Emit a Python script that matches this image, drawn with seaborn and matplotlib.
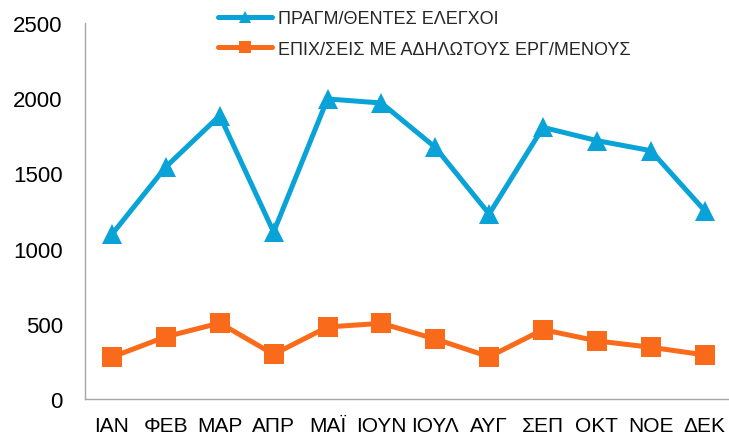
import matplotlib
matplotlib.use("Agg")
import matplotlib.pyplot as plt
import seaborn as sns
import pandas as pd
import numpy as np

months = ["ΙΑΝ", "ΦΕΒ", "ΜΑΡ", "ΑΠΡ", "ΜΑΪ", "ΙΟΥΝ", "ΙΟΥΛ", "ΑΥΓ", "ΣΕΠ", "ΟΚΤ", "ΝΟΕ", "ΔΕΚ"]
checks = [1095, 1543, 1884, 1110, 1995, 1968, 1673, 1230, 1806, 1718, 1651, 1252]
undeclared = [279, 414, 505, 297, 479, 503, 399, 281, 461, 386, 344, 293]
series_names = ["ΠΡΑΓΜ/ΘΕΝΤΕΣ ΕΛΕΓΧΟΙ", "ΕΠΙΧ/ΣΕΙΣ ΜΕ ΑΔΗΛΩΤΟΥΣ ΕΡΓ/ΜΕΝΟΥΣ"]
yticks = [0, 500, 1000, 1500, 2000, 2500]

sns.set_theme(style="white")
plt.rcParams["font.family"] = ["Liberation Sans", "DejaVu Sans"]

blue = "#0AA3D8"
orange = "#F96B1B"

df = pd.DataFrame({
    "idx": list(range(len(months))) * 2,
    "value": checks + undeclared,
    "series": [series_names[0]] * len(months) + [series_names[1]] * len(months),
})

fig = plt.figure(figsize=(7.29, 4.39), dpi=100)
ax = fig.add_axes([85 / 729, 39 / 439, 644 / 729, 376 / 439])

sns.lineplot(data=df, x="idx", y="value", hue="series", style="series",
             markers={series_names[0]: "^", series_names[1]: "s"}, dashes=False,
             palette={series_names[0]: blue, series_names[1]: orange},
             linewidth=3.6, markersize=14, markeredgewidth=0, ax=ax, legend=True)

ax.set_xlim(-0.5, 11.45)
ax.set_ylim(0, 2500)
ax.set_yticks(yticks)
ax.set_yticklabels([str(v) for v in yticks], fontsize=16)
ax.set_xticks(range(len(months)))
ax.set_xticklabels(months, fontsize=15)
ax.tick_params(axis="y", length=0, pad=16, colors="#000000")
ax.tick_params(axis="x", length=0, pad=12, colors="#000000")
ax.set_xlabel("")
ax.set_ylabel("")
for s in ["top", "right"]:
    ax.spines[s].set_visible(False)
for s in ["left", "bottom"]:
    ax.spines[s].set_color("#A6A6A6")
    ax.spines[s].set_linewidth(1.0)

handles, labels = ax.get_legend_handles_labels()
ax.legend(handles, labels, loc="upper left", bbox_to_anchor=(218 / 729, 1 - 11 / 439),
          bbox_transform=fig.transFigure, frameon=False, fontsize=13,
          handlelength=3.0, handletextpad=0.3, labelspacing=0.75, borderpad=0,
          borderaxespad=0, markerscale=0.6)

fig.savefig("out.png", dpi=100)
